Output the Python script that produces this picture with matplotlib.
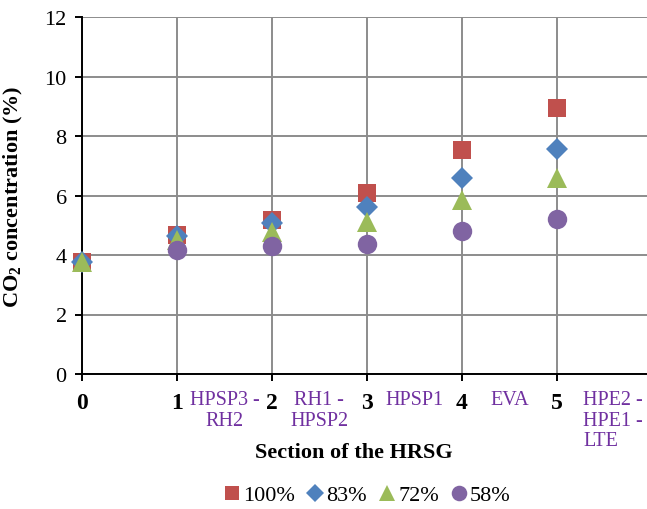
import numpy as np
import matplotlib.pyplot as plt

plt.rcParams['font.family'] = ['Liberation Serif', 'DejaVu Serif']
plt.rcParams['mathtext.fontset'] = 'custom'
plt.rcParams['mathtext.rm'] = 'Liberation Serif'
plt.rcParams['mathtext.bf'] = 'Liberation Serif:bold'

# data (58% has no point at section 0)
sections = [0, 1, 2, 3, 4, 5]
load_100 = [3.75, 4.68, 5.18, 6.08, 7.53, 8.95]
load_83 = [3.75, 4.65, 5.07, 5.62, 6.59, 7.56]
load_72 = [3.75, 4.50, 4.77, 5.12, 5.85, 6.59]
load_58 = [np.nan, 4.17, 4.30, 4.37, 4.80, 5.21]
legend_labels = ['100%', '83%', '72%', '58%']
section_names = ['HPSP3 -\nRH2', 'RH1 -\nHPSP2', 'HPSP1', 'EVA', 'HPE2 -\nHPE1 -\nLTE']
name_pos = [1.5, 2.5, 3.5, 4.5, 5.28]

fig = plt.figure(figsize=(6.47, 5.10), dpi=100)
ax = fig.add_axes([82/647, 135/510, 565/647, 357/510])

series = [load_100, load_83, load_72, load_58]
colors = ['#C0504D', '#4F81BD', '#9BBB59', '#8064A2']
markers = ['s', 'D', '^', 'o']
sizes = [13, 11, 15, 14]
for vals, c, m, s, lab in zip(series, colors, markers, sizes, legend_labels):
    ax.plot(sections, vals, linestyle='none', marker=m, color=c, markersize=s,
            markeredgewidth=0, label=lab, clip_on=False, zorder=3)

ax.set_xlim(0, 5.95)
ax.set_ylim(0, 12)
ax.set_xticks(sections)
ax.set_yticks(np.arange(0, 13, 2))
ax.grid(True, color='#8c8c8c', linewidth=1.4)
ax.set_axisbelow(True)
for sp in ['top', 'right']:
    ax.spines[sp].set_visible(False)
for sp in ['left', 'bottom']:
    ax.spines[sp].set_linewidth(1.4)
ax.tick_params(axis='y', labelsize=16, length=5, width=1.4, pad=6)
ax.tick_params(axis='x', labelsize=17, length=5, width=1.4, pad=8)
for t in ax.get_xticklabels():
    t.set_fontweight('bold')

for name, xp in zip(section_names, name_pos):
    ha = 'left' if xp > 5 else 'center'
    ax.text(xp, -0.55, name, ha=ha, va='top', color='#7030A0', fontsize=14.5,
            linespacing=1.1, transform=ax.transData, clip_on=False)

ax.set_xlabel('Section of the HRSG', fontsize=16, fontweight='bold')
ax.xaxis.set_label_coords(272/565, -0.19)
ax.set_ylabel(r'CO$_\mathbf{2}$ concentration (%)', fontsize=16, fontweight='bold')
ax.yaxis.set_label_coords(-0.1, 0.5)

fig.legend(loc='center', bbox_to_anchor=(366/647, 1 - 496/510), ncol=4, frameon=False,
           fontsize=16, handletextpad=0.0, columnspacing=0.4, markerscale=0.8,
           handlelength=1.0)

fig.savefig('out.png', dpi=100)
